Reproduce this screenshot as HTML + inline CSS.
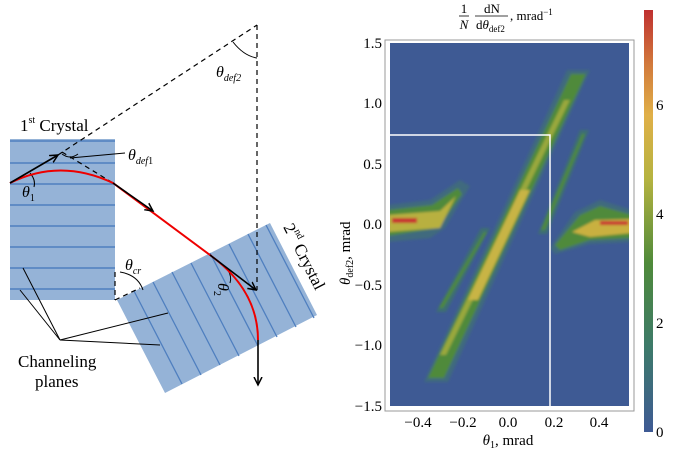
<!DOCTYPE html>
<html><head><meta charset="utf-8"><style>
body{margin:0;background:#fff;}
svg text{font-family:"Liberation Serif",serif;}
</style></head><body>
<svg width="677" height="450" viewBox="0 0 677 450" xmlns="http://www.w3.org/2000/svg">
<defs>
<marker id="ah" markerWidth="10" markerHeight="10" refX="8" refY="5" orient="auto" markerUnits="userSpaceOnUse">
<path d="M0,1 L8,5 L0,9" fill="none" stroke="#000" stroke-width="1.5"/></marker>
<filter id="bl"><feGaussianBlur stdDeviation="2"/></filter>
<filter id="bl2"><feGaussianBlur stdDeviation="1.2"/></filter>
<linearGradient id="cb" x1="0" y1="1" x2="0" y2="0">
<stop offset="0" stop-color="#3e5a94"/><stop offset="0.2" stop-color="#3d7a6a"/>
<stop offset="0.4" stop-color="#4f8a3a"/><stop offset="0.6" stop-color="#b5b340"/>
<stop offset="0.75" stop-color="#e0b048"/><stop offset="0.87" stop-color="#d27a3c"/>
<stop offset="1" stop-color="#bf3030"/></linearGradient>
<clipPath id="pc"><rect x="390" y="43" width="239" height="363"/></clipPath>
</defs>
<rect x="10" y="139" width="105" height="161" fill="#95b3d7"/>
<g stroke="#4f7fbf" stroke-width="1.5">
<line x1="10" y1="141" x2="115" y2="141"/><line x1="10" y1="163" x2="115" y2="163"/>
<line x1="10" y1="184" x2="115" y2="184"/><line x1="10" y1="205" x2="115" y2="205"/>
<line x1="10" y1="226" x2="115" y2="226"/><line x1="10" y1="247" x2="115" y2="247"/>
<line x1="10" y1="268" x2="115" y2="268"/><line x1="10" y1="289" x2="115" y2="289"/>
</g>
<polygon points="117,300 270,223 317,315 165,393" fill="#95b3d7"/>
<g stroke="#4f7fbf" stroke-width="1.3">
<line x1="134" y1="291" x2="182" y2="384"/><line x1="153" y1="282" x2="201" y2="375"/>
<line x1="172" y1="272" x2="220" y2="365"/><line x1="191" y1="263" x2="239" y2="356"/>
<line x1="210" y1="253" x2="258" y2="346"/><line x1="229" y1="244" x2="277" y2="337"/>
<line x1="248" y1="234" x2="296" y2="327"/><line x1="266" y1="225" x2="314" y2="318"/>
</g>
<g stroke="#000" stroke-width="1.2" stroke-dasharray="5,4" fill="none">
<line x1="58" y1="155" x2="257" y2="25"/><line x1="257" y1="25" x2="257" y2="290"/>
<line x1="62" y1="152" x2="113" y2="183"/>
<line x1="115" y1="272" x2="115" y2="300"/><line x1="115" y1="300" x2="140" y2="288"/>
</g>
<path d="M233,42 Q244,56 257,58" fill="none" stroke="#000"/>
<path d="M120,272 Q138,275 143,290" fill="none" stroke="#000"/>
<path d="M30,173 Q36,180 34,187" fill="none" stroke="#000"/>
<path d="M62,154 Q70,160 78,154" fill="none" stroke="#000"/>
<path d="M228,270 Q232,277 230,283" fill="none" stroke="#000"/>
<path d="M10,183 Q60,158 113,183 L210,255 Q258,290 258,340" fill="none" stroke="#e00" stroke-width="2"/>
<g stroke="#000" stroke-width="1.6" fill="none" marker-end="url(#ah)">
<line x1="10" y1="183" x2="58" y2="155"/><line x1="113" y1="183" x2="153" y2="211"/>
<line x1="210" y1="255" x2="256" y2="290"/><line x1="258" y1="340" x2="258" y2="385"/>
</g>
<g stroke="#000" stroke-width="1" fill="none">
<line x1="70" y1="158" x2="125" y2="153"/>
<line x1="23" y1="268" x2="60" y2="340"/><line x1="20" y1="290" x2="60" y2="340"/>
<line x1="60" y1="340" x2="168" y2="313"/><line x1="60" y1="340" x2="160" y2="345"/>
</g>
<text x="20" y="131" font-size="17">1<tspan font-size="10" dy="-8">st</tspan><tspan dy="8"> Crystal</tspan></text>
<text x="22" y="197" font-size="16" font-style="italic">θ<tspan font-size="10" font-style="normal" dy="4">1</tspan></text>
<text x="128" y="160" font-size="16" font-style="italic">θ<tspan font-size="10" dy="4">def</tspan><tspan font-size="10" font-style="normal">1</tspan></text>
<text x="216" y="77" font-size="16" font-style="italic">θ<tspan font-size="10" dy="4">def2</tspan></text>
<text x="125" y="270" font-size="16" font-style="italic">θ<tspan font-size="10" dy="4">cr</tspan></text>
<text transform="translate(218,283) rotate(90)" font-size="16" font-style="italic">θ<tspan font-size="10" font-style="normal" dy="4">2</tspan></text>
<text transform="translate(283,227) rotate(63)" font-size="17">2<tspan font-size="10" dy="-8">nd</tspan><tspan dy="8"> Crystal</tspan></text>
<text x="18" y="367" font-size="17">Channeling</text>
<text x="35" y="387" font-size="17">planes</text>
<rect x="385" y="40" width="249" height="371" fill="none" stroke="#999" stroke-width="1"/>
<rect x="390" y="43" width="239" height="363" fill="#3e5a94"/>
<g clip-path="url(#pc)">
<g filter="url(#bl2)">
<polygon points="424,382 448,382 590,70 567,70" fill="#3f6a7e"/>
<polygon points="428,378 444,378 586,74 571,74" fill="#4f8a3a"/>
<polygon points="440,355 446,355 570,100 564,100" fill="#9aa83c"/>
<polygon points="468,300 478,300 530,190 520,190" fill="#c8b444"/>
<polygon points="388,205 430,200 460,180 470,186 445,228 430,238 388,242" fill="#3f6a7e"/>
<polygon points="388,210 432,205 458,188 462,194 438,228 388,236" fill="#4f8a3a"/>
<polygon points="388,215 440,211 456,196 440,228 388,232" fill="#b8b040"/>
<polygon points="550,248 575,212 600,200 632,210 632,242 590,244 555,254" fill="#3f6a7e"/>
<polygon points="555,245 580,215 600,206 632,215 632,238 590,240 560,250" fill="#4f8a3a"/>
<polygon points="572,232 595,220 632,219 632,233 590,237" fill="#c9b040"/>
<rect x="392" y="218" width="25" height="5" fill="#c83030"/>
<rect x="600" y="221" width="28" height="4" fill="#c83030"/>
<polygon points="436,312 446,312 490,228 481,228" fill="#3d6e72"/>
<polygon points="538,234 547,234 589,130 580,130" fill="#3d6e72"/>
<polygon points="439,308 443,308 487,232 484,232" fill="#4f8a3a"/>
<polygon points="541,230 545,230 585,134 582,134" fill="#4f8a3a"/>
</g>
</g>
<polyline points="390,135 550,135 550,406" fill="none" stroke="#fff" stroke-width="1.5"/>
<g font-size="15" text-anchor="end">
<text x="382" y="48">1.5</text><text x="382" y="108">1.0</text><text x="382" y="169">0.5</text>
<text x="382" y="229">0.0</text><text x="382" y="290">−0.5</text><text x="382" y="350">−1.0</text>
<text x="382" y="411">−1.5</text></g>
<g font-size="15" text-anchor="middle">
<text x="418" y="427">−0.4</text><text x="463" y="427">−0.2</text><text x="508" y="427">0.0</text>
<text x="554" y="427">0.2</text><text x="599" y="427">0.4</text></g>
<text x="508" y="445" font-size="15" text-anchor="middle"><tspan font-style="italic">θ</tspan><tspan font-size="10" dy="3">1</tspan><tspan dy="-3">, mrad</tspan></text>
<text transform="translate(350,285) rotate(-90)" font-size="15"><tspan font-style="italic">θ</tspan><tspan font-size="10" dy="3">def2</tspan><tspan dy="-3">, mrad</tspan></text>
<text x="464" y="13" font-size="13" text-anchor="middle">1</text>
<line x1="459" y1="16" x2="469" y2="16" stroke="#000" stroke-width="0.8"/>
<text x="464" y="29" font-size="13" text-anchor="middle" font-style="italic">N</text>
<text x="492" y="13" font-size="13" text-anchor="middle">dN</text>
<line x1="475" y1="16" x2="508" y2="16" stroke="#000" stroke-width="0.8"/>
<text x="476" y="29" font-size="13">d<tspan font-style="italic">θ</tspan><tspan font-size="9" dy="3">def2</tspan></text>
<text x="510" y="20" font-size="13">, mrad<tspan font-size="9" dy="-5">−1</tspan></text>
<rect x="644" y="10" width="9" height="422" fill="url(#cb)"/>
<g font-size="15"><text x="656" y="110">6</text><text x="656" y="219">4</text><text x="656" y="328">2</text><text x="656" y="437">0</text></g>
</svg>
</body></html>
